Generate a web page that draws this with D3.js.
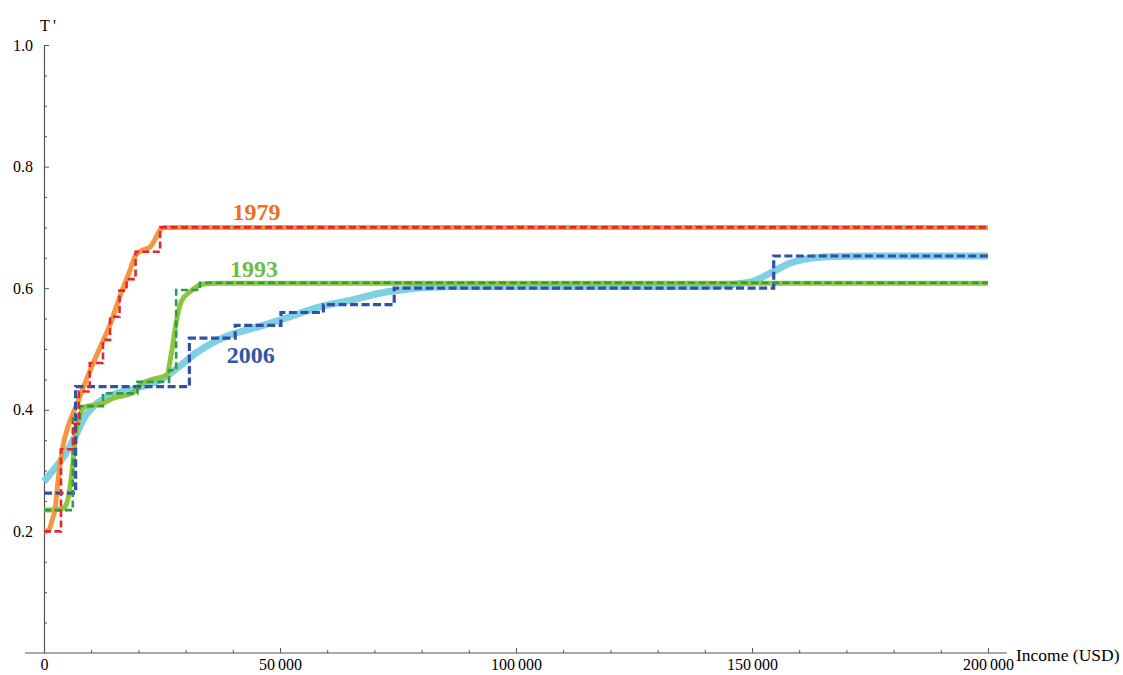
<!DOCTYPE html>
<html>
<head>
<meta charset="utf-8">
<script src="https://cdn.jsdelivr.net/npm/d3@7"></script>
<style>
  body { margin: 0; background: #fff; }
  svg { display: block; }
  .serif { font-family: "Liberation Serif", Tinos, "Times New Roman", Times, serif; }
  .axis text { font-family: "Liberation Serif", Tinos, "Times New Roman", Times, serif; font-size: 16px; fill: #000; }
  .axis line, .axis path { stroke: #555; }
</style>
</head>
<body>
<div id="chart"></div>
<script>
// smooth curves (income, T')
const smooth1979 = [[0,0.200],[1000,0.202],[1600,0.215],[2400,0.24],[3000,0.285],[4000,0.34],[5000,0.37],[7000,0.41],[9000,0.45],[12000,0.505],[14000,0.54],[16000,0.585],[18000,0.625],[19500,0.655],[21000,0.663],[22500,0.668],[23500,0.68],[24500,0.695],[25500,0.70],[200000,0.70]];
const smooth1993 = [[0,0.235],[3800,0.237],[4800,0.246],[5900,0.296],[6600,0.35],[7300,0.383],[8700,0.405],[12200,0.41],[15000,0.42],[18600,0.427],[20700,0.443],[22500,0.449],[26000,0.457],[27000,0.493],[28100,0.548],[29200,0.58],[30900,0.594],[33800,0.607],[37000,0.608],[200000,0.608]];
const smooth2006 = [[0,0.282],[2300,0.304],[4450,0.326],[6600,0.356],[8700,0.389],[10800,0.408],[14300,0.424],[19300,0.435],[25300,0.452],[28800,0.472],[32300,0.494],[35900,0.511],[39400,0.523],[46500,0.539],[52100,0.553],[57800,0.568],[64800,0.580],[71900,0.593],[79000,0.600],[86000,0.603],[139000,0.603],[149500,0.61],[154400,0.627],[158000,0.641],[162300,0.649],[167200,0.652],[175000,0.653],[200000,0.653]];

// step schedules (bracket start, T')
const steps1979 = [[0,0.20],[3600,0.335],[6200,0.377],[7400,0.43],[9700,0.477],[12500,0.515],[14000,0.553],[16000,0.596],[17500,0.615],[19400,0.66],[24600,0.70],[200000,0.70]];
const steps1993 = [[0,0.235],[6100,0.386],[7600,0.406],[12500,0.427],[19800,0.446],[26500,0.465],[28000,0.597],[33000,0.609],[200000,0.609]];
const steps2006 = [[0,0.263],[6700,0.438],[30800,0.518],[40500,0.539],[50200,0.56],[59200,0.573],[74200,0.60],[154600,0.653],[200000,0.653]];

const xMajor = [0, 50000, 100000, 150000, 200000];
const xMinor = d3.range(10000, 200000, 10000).filter(v => v % 50000 !== 0);
const yMajor = [0.2, 0.4, 0.6, 0.8, 1.0];
const yMinor = d3.range(1, 20).map(i => i * 0.05).filter(v => Math.abs(v * 5 - Math.round(v * 5)) > 1e-6);

const yearLabels = ["1979", "1993", "2006"];

const width = 1123, height = 675;

const svg = d3.select("#chart").append("svg")
    .attr("width", width)
    .attr("height", height);

const x = d3.scaleLinear().domain([0, 200000]).range([44, 988]);
const y = d3.scaleLinear().domain([0, 1]).range([653, 45]);

const fmt = v => d3.format(",")(v).replace(/,/g, "\u2009");

// x axis
const xAxisG = svg.append("g").attr("class", "axis").attr("transform", `translate(0,${y(0)})`);
xAxisG.append("line")
    .attr("x1", x(-4000)).attr("x2", x(204000))
    .attr("y1", 0).attr("y2", 0)
    .attr("stroke-width", 1.2);
xAxisG.append("g")
    .call(d3.axisBottom(x).tickValues(xMajor).tickFormat(fmt).tickSizeInner(-5).tickSizeOuter(0).tickPadding(6))
    .call(g => g.select(".domain").remove())
    .attr("font-family", null);
xAxisG.append("g")
    .call(d3.axisBottom(x).tickValues(xMinor).tickFormat("").tickSizeInner(-3).tickSizeOuter(0))
    .call(g => g.select(".domain").remove());

svg.append("text")
    .attr("class", "serif")
    .attr("x", 1016).attr("y", 661)
    .style("font-size", "17.5px")
    .text("Income (USD)");

// y axis
const yAxisG = svg.append("g").attr("class", "axis").attr("transform", `translate(${x(0)},0)`);
yAxisG.append("g")
    .call(d3.axisLeft(y).tickValues(yMajor).tickFormat(d3.format(".1f")).tickSizeInner(-5).tickSizeOuter(0).tickPadding(11))
    .call(g => g.select(".domain").attr("stroke-width", 1.2))
    .attr("font-family", null);
yAxisG.append("g")
    .call(d3.axisLeft(y).tickValues(yMinor).tickFormat("").tickSizeInner(-3).tickSizeOuter(0))
    .call(g => g.select(".domain").remove());

svg.append("text")
    .attr("class", "serif")
    .attr("x", 40).attr("y", 31)
    .style("font-size", "16px")
    .text("T\u2009'");

// lines
const smoothLine = d3.line().x(d => x(d[0])).y(d => y(d[1])).curve(d3.curveMonotoneX);
const stepLine = d3.line().x(d => x(d[0])).y(d => y(d[1])).curve(d3.curveStepAfter);

const smoothSeries = [
    {data: smooth2006, color: "#80d0e3", w: 7},
    {data: smooth1993, color: "#8cc63f", w: 5},
    {data: smooth1979, color: "#f7963e", w: 5}
];
const stepSeries = [
    {data: steps2006, color: "#2f52a6", w: 3.2, dash: "8,3.5"},
    {data: steps1993, color: "#2f9a49", w: 2.6, dash: "7,3.5"},
    {data: steps1979, color: "#e2282c", w: 2.6, dash: "7,3.5"}
];

svg.append("g").selectAll("path")
    .data(smoothSeries)
    .join("path")
    .attr("d", d => smoothLine(d.data))
    .attr("fill", "none")
    .attr("stroke", d => d.color)
    .attr("stroke-width", d => d.w)
    .attr("stroke-linejoin", "round");

svg.append("g").selectAll("path")
    .data(stepSeries)
    .join("path")
    .attr("d", d => stepLine(d.data))
    .attr("fill", "none")
    .attr("stroke", d => d.color)
    .attr("stroke-width", d => d.w)
    .attr("stroke-dasharray", d => d.dash);

// year labels
const labelSpecs = [
    {text: yearLabels[0], inc: 45000, t: 0.712, color: "#f26d22"},
    {text: yearLabels[1], inc: 44500, t: 0.618, color: "#6dbd45"},
    {text: yearLabels[2], inc: 43800, t: 0.477, color: "#2f57a8"}
];
svg.append("g").selectAll("text")
    .data(labelSpecs)
    .join("text")
    .attr("class", "serif")
    .attr("x", d => x(d.inc))
    .attr("y", d => y(d.t))
    .attr("text-anchor", "middle")
    .style("font-weight", "bold")
    .style("font-size", "24px")
    .attr("fill", d => d.color)
    .text(d => d.text);
</script>
</body>
</html>
